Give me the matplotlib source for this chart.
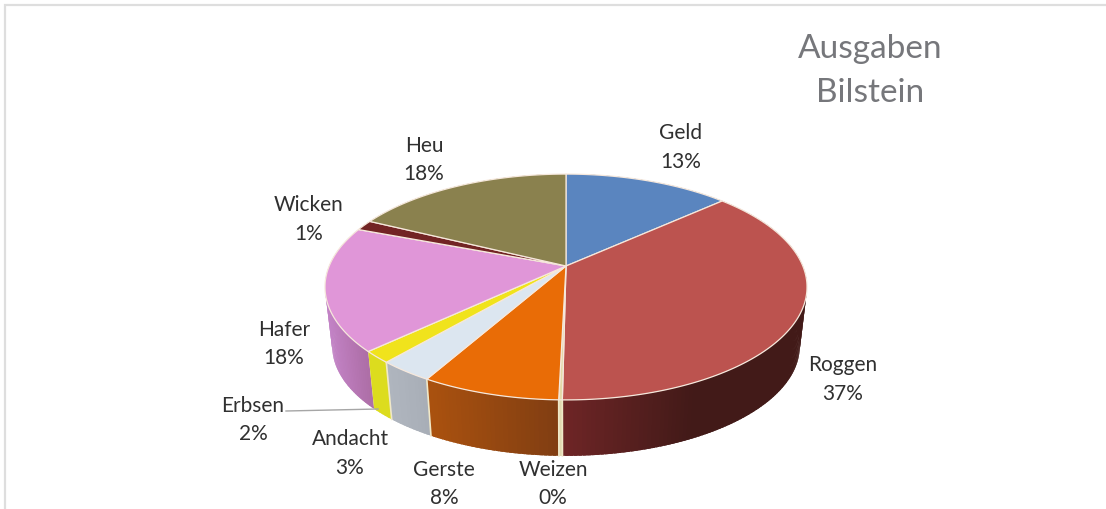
import numpy as np
import matplotlib
matplotlib.use('Agg')
import matplotlib.pyplot as plt
from matplotlib.colors import to_rgb
from matplotlib.patches import Polygon

plt.rcParams['font.family'] = ['Lato', 'DejaVu Sans']

names = ['Geld', 'Roggen', 'Weizen', 'Gerste', 'Andacht', 'Erbsen', 'Hafer', 'Wicken', 'Heu']
values = [13.3, 36.9, 0.2, 7.8, 3.1, 1.7, 17.8, 1.5, 17.7]
pct_labels = ['13%', '37%', '0%', '8%', '3%', '2%', '18%', '1%', '18%']
top_colors = ['#5a85bf', '#bc534f', '#e3d9a8', '#e96c06', '#dce6f0', '#f0e31c', '#e096d8', '#722424', '#8a814e']
wall_left = ['#3f5f8c', '#6e2526', '#e0d8b0', '#ab520f', '#b0b6bf', '#dcdc1e', '#c484c8', '#501818', '#615a36']
wall_right = ['#3f5f8c', '#421a18', '#e0d8b0', '#813e12', '#a8aeb7', '#dcdc1e', '#ad6ea6', '#501818', '#615a36']
label_x = [681, 843, 553, 444, 350, 253, 284, 309, 424]
label_y = [133, 365, 470, 470, 439, 406, 330, 205, 146]

# pie geometry, in picture pixels
cx, cy = 566, 266
persp = 0.186
sy = 109
sx = 236.8
depth = 60
shrink = 0.97


def project(frac, bottom=False):
    t = 2 * np.pi * np.asarray(frac) / 100
    u, v = np.sin(t), np.cos(t)
    x = sx * u / (1 + persp * v)
    y = sy * v / (1 + persp * v)
    if bottom:
        return cx + shrink * x, cy + depth - shrink * y
    return cx + x, cy - y


fig = plt.figure(figsize=(11.06, 5.09), dpi=100)
ax = fig.add_axes([0, 0, 1, 1])
ax.set_xlim(0, 1106)
ax.set_ylim(509, 0)
ax.axis('off')

# chart frame, the right side is cut off in the scan
ax.plot([5, 5, 1106], [509, 5, 5], color='#dedede', lw=1.6, solid_joinstyle='miter')

edges = np.concatenate([[0], np.cumsum(values)])

# walls, strips overlap a little so no seams show
strips = []
for i in range(len(values)):
    n = max(int(values[i] * 4), 2)
    f = np.linspace(edges[i], edges[i + 1], n + 1)
    x0, y0 = project(f)
    xmin, xmax = x0.min(), x0.max()
    c0, c1 = np.array(to_rgb(wall_left[i])), np.array(to_rgb(wall_right[i]))
    for j in range(n):
        if i == 1:
            k = min(((x0[j] + x0[j + 1]) / 2 - xmin) / 130, 1)
        else:
            k = ((x0[j] + x0[j + 1]) / 2 - xmin) / max(xmax - xmin, 1)
        col = c0 + (c1 - c0) * k
        ends = np.array([max(f[j] - 0.1, edges[i]), min(f[j + 1] + 0.1, edges[i + 1])])
        xa, ya = project(ends)
        xb, yb = project(ends, bottom=True)
        quad = [(xa[0], ya[0]), (xa[1], ya[1]), (xb[1], yb[1]), (xb[0], yb[0])]
        strips.append((y0[j], quad, col))
strips.sort(key=lambda s: s[0])
for _, quad, col in strips:
    ax.add_patch(Polygon(quad, closed=True, facecolor=col, edgecolor='none', zorder=2))

# pale seams between the front walls
for i in range(1, 5):
    xa, ya = project(edges[i + 1])
    xb, yb = project(edges[i + 1], bottom=True)
    ax.plot([xa, xb], [ya, yb], color='#f0e8c8', lw=1.2, zorder=3)

# top face
for i in range(len(values)):
    n = max(int(values[i] * 4), 2)
    f = np.linspace(edges[i], edges[i + 1], n + 1)
    x0, y0 = project(f)
    pts = [(cx, cy)] + list(zip(x0, y0))
    ax.add_patch(Polygon(pts, closed=True, facecolor=top_colors[i], edgecolor='#f6e8dc', lw=0.9,
                         joinstyle='round', zorder=4))

# leader line for Erbsen
ax.plot([286, 378], [411, 409], color='#a6a6a6', lw=1.0, zorder=5)

for i in range(len(names)):
    ax.text(label_x[i], label_y[i], names[i], ha='center', va='center', fontsize=15, color='#303030', zorder=6)
    ax.text(label_x[i], label_y[i] + 28.5, pct_labels[i], ha='center', va='center', fontsize=15, color='#303030', zorder=6)

ax.text(870, 49, 'Ausgaben', ha='center', va='center', fontsize=24, color='#76777b')
ax.text(870, 93, 'Bilstein', ha='center', va='center', fontsize=24, color='#76777b')

fig.savefig('out.png', dpi=100)
